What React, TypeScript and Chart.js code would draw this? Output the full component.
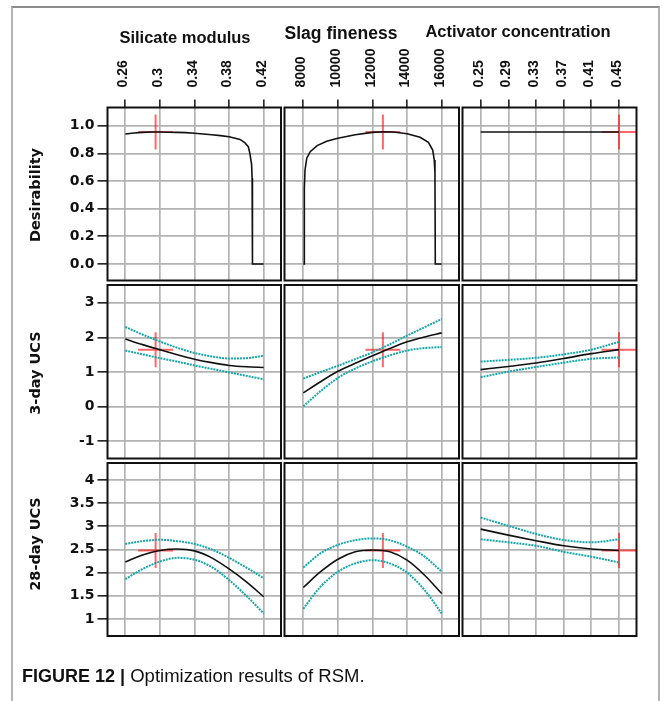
import React, { useEffect, useRef } from 'react';
import { Chart, registerables } from 'chart.js';
Chart.register(...registerables);

const W = 667;
const H = 701;

const columnTitles = ['Silicate modulus', 'Slag fineness', 'Activator concentration'];
const rowTitles = ['Desirability', '3-day UCS', '28-day UCS'];
const captionBold = 'FIGURE 12 |';
const captionText = ' Optimization results of RSM.';

// tick values
const smTicks = [0.26, 0.3, 0.34, 0.38, 0.42];
const sfTicks = [8000, 10000, 12000, 14000, 16000];
const acTicks = [0.25, 0.29, 0.33, 0.37, 0.41, 0.45];
const desTicks = [0, 0.2, 0.4, 0.6, 0.8, 1.0];
const ucs3Ticks = [-1, 0, 1, 2, 3];
const ucs28Ticks = [1, 1.5, 2, 2.5, 3, 3.5, 4];

// axis ranges
const smRange = [0.2394, 0.44];
const sfRange = [6913, 17000];
const acRange = [0.2237, 0.4753];
const desRange = [-0.1193, 1.1316];
const ucs3Range = [-1.496, 3.511];
const ucs28Range = [0.633, 4.367];

// optimum point
const optSM = 0.295;
const optSF = 12600;
const optAC = 0.45;
const optDes = 0.954;
const opt3 = 1.645;
const opt28 = 2.48;

// desirability curves
const smDesX = [0.26, 0.27, 0.28, 0.29, 0.3, 0.31, 0.32, 0.33, 0.34, 0.35, 0.36, 0.37, 0.38, 0.3926, 0.398, 0.4022, 0.404, 0.406, 0.4066, 0.407, 0.42];
const smDesY = [0.94, 0.947, 0.952, 0.954, 0.954, 0.953, 0.952, 0.95, 0.945, 0.94, 0.934, 0.928, 0.92, 0.901, 0.878, 0.848, 0.8, 0.72, 0.62, 0, 0];
const sfDesX = [8000, 8050, 8060, 8100, 8200, 8400, 8800, 9350, 10000, 11000, 12000, 12600, 13200, 14000, 14750, 15230, 15480, 15570, 15610, 15630, 16000];
const sfDesY = [0, 0, 0.55, 0.68, 0.765, 0.812, 0.856, 0.887, 0.909, 0.935, 0.952, 0.956, 0.954, 0.942, 0.916, 0.88, 0.824, 0.752, 0.656, 0, 0];
const acDesX = [0.25, 0.45];
const acDesY = [0.954, 0.954];

// silicate modulus
const smX = [0.26, 0.28, 0.3, 0.32, 0.34, 0.36, 0.38, 0.4, 0.42];
const sm3Fit = [1.95, 1.79, 1.64, 1.5, 1.37, 1.27, 1.19, 1.15, 1.13];
const sm3Hi = [2.3, 2.08, 1.88, 1.7, 1.55, 1.45, 1.39, 1.4, 1.47];
const sm3Lo = [1.62, 1.51, 1.4, 1.3, 1.19, 1.09, 0.99, 0.89, 0.79];
const sm28Fit = [2.23, 2.38, 2.48, 2.51, 2.47, 2.32, 2.08, 1.8, 1.48];
const sm28Hi = [2.62, 2.68, 2.71, 2.68, 2.62, 2.5, 2.32, 2.11, 1.88];
const sm28Lo = [1.86, 2.08, 2.24, 2.32, 2.28, 2.12, 1.84, 1.5, 1.12];

// slag fineness
const sfX = [8000, 9000, 10000, 11000, 12000, 13000, 14000, 15000, 16000];
const sf3Fit = [0.4, 0.72, 1.02, 1.25, 1.47, 1.68, 1.87, 2.01, 2.13];
const sf3Hi = [0.81, 1.0, 1.18, 1.37, 1.57, 1.8, 2.05, 2.29, 2.53];
const sf3Lo = [0.01, 0.45, 0.83, 1.1, 1.31, 1.48, 1.62, 1.69, 1.72];
const sf28Fit = [1.68, 2.02, 2.29, 2.45, 2.49, 2.45, 2.27, 1.95, 1.55];
const sf28Hi = [2.11, 2.42, 2.6, 2.7, 2.74, 2.7, 2.56, 2.35, 2.02];
const sf28Lo = [1.22, 1.7, 2.02, 2.2, 2.27, 2.2, 2.0, 1.63, 1.12];

// activator concentration
const acX = [0.25, 0.29, 0.33, 0.37, 0.41, 0.45];
const ac3Fit = [1.07, 1.16, 1.26, 1.39, 1.53, 1.645];
const ac3Hi = [1.3, 1.35, 1.41, 1.51, 1.645, 1.87];
const ac3Lo = [0.85, 1.01, 1.145, 1.27, 1.38, 1.42];
const ac28Fit = [2.94, 2.81, 2.69, 2.58, 2.51, 2.48];
const ac28Hi = [3.19, 3.01, 2.835, 2.705, 2.655, 2.72];
const ac28Lo = [2.72, 2.655, 2.58, 2.45, 2.345, 2.22];

// layout (panel edges in px)
const colLeft = [107.5, 284.5, 462.5];
const colRight = [281, 459, 636.5];
const rowTop = [107.5, 285, 463];
const rowBottom = [280.5, 458.5, 636];
const Y_AXIS_BOX = 70;
const X_AXIS_BOX = 90;

const xTicksByCol = [smTicks, sfTicks, acTicks];
const xRangeByCol = [smRange, sfRange, acRange];
const yTicksByRow = [desTicks, ucs3Ticks, ucs28Ticks];
const yRangeByRow = [desRange, ucs3Range, ucs28Range];
const optX = [optSM, optSF, optAC];
const optY = [optDes, opt3, opt28];

const pts = (xs: number[], ys: number[]) => xs.map((x, i) => ({ x, y: ys[i] }));

const BLACK = '#111111';
const CYAN = '#16a6a8';
const RED = 'rgba(255,0,0,0.6)';

function seriesFor(row: number, col: number) {
  if (row === 0) {
    const d = [
      [smDesX, smDesY],
      [sfDesX, sfDesY],
      [acDesX, acDesY],
    ][col];
    return { fit: pts(d[0], d[1]), hi: null, lo: null, smooth: false };
  }
  const xs = [smX, sfX, acX][col];
  const table =
    row === 1
      ? [
          [sm3Fit, sm3Hi, sm3Lo],
          [sf3Fit, sf3Hi, sf3Lo],
          [ac3Fit, ac3Hi, ac3Lo],
        ][col]
      : [
          [sm28Fit, sm28Hi, sm28Lo],
          [sf28Fit, sf28Hi, sf28Lo],
          [ac28Fit, ac28Hi, ac28Lo],
        ][col];
  return { fit: pts(xs, table[0]), hi: pts(xs, table[1]), lo: pts(xs, table[2]), smooth: true };
}

const framePlugin = {
  id: 'panelFrame',
  afterDraw(chart: any) {
    const { ctx, chartArea } = chart;
    ctx.save();
    ctx.strokeStyle = '#111';
    ctx.lineWidth = 2;
    ctx.strokeRect(chartArea.left, chartArea.top, chartArea.right - chartArea.left, chartArea.bottom - chartArea.top);
    ctx.restore();
  },
};

function buildConfig(row: number, col: number) {
  const s = seriesFor(row, col);
  const datasets: any[] = [];
  const lineBase = {
    showLine: true,
    pointRadius: 0,
    fill: false,
    cubicInterpolationMode: s.smooth ? 'monotone' : 'default',
    tension: 0,
  };
  if (s.hi && s.lo) {
    datasets.push({ ...lineBase, data: s.hi, borderColor: CYAN, borderWidth: 2, borderDash: [2, 1] });
    datasets.push({ ...lineBase, data: s.lo, borderColor: CYAN, borderWidth: 2, borderDash: [2, 1] });
  }
  datasets.push({ ...lineBase, data: s.fit, borderColor: BLACK, borderWidth: 1.6 });
  datasets.push({
    data: [{ x: optX[col], y: optY[row] }],
    showLine: false,
    pointStyle: 'cross',
    pointRadius: 17.5,
    pointBorderColor: RED,
    borderColor: RED,
    pointBorderWidth: 2,
    borderWidth: 2,
    clip: 20,
  });

  const xTicks = xTicksByCol[col];
  const yTicks = yTicksByRow[row];
  const xr = xRangeByCol[col];
  const yr = yRangeByRow[row];

  return {
    type: 'scatter',
    data: { datasets },
    options: {
      responsive: false,
      animation: false,
      devicePixelRatio: 1,
      events: [],
      layout: {
        padding: {
          left: colLeft[col] - Y_AXIS_BOX,
          right: W - colRight[col],
          top: rowTop[row] - X_AXIS_BOX,
          bottom: H - rowBottom[row],
        },
      },
      plugins: { legend: { display: false }, tooltip: { enabled: false } },
      scales: {
        x: {
          type: 'linear',
          position: 'top',
          min: xr[0],
          max: xr[1],
          afterBuildTicks: (sc: any) => {
            sc.ticks = xTicks.map((v) => ({ value: v }));
          },
          afterFit: (sc: any) => {
            sc.height = X_AXIS_BOX;
          },
          border: { display: false },
          grid: {
            color: '#b3b3b3',
            lineWidth: 1.7,
            drawTicks: row === 0,
            tickLength: 8,
            tickColor: '#111',
            tickWidth: 1.5,
          },
          ticks: {
            display: row === 0,
            autoSkip: false,
            minRotation: 90,
            maxRotation: 90,
            padding: 12,
            labelOffset: 15,
            color: '#111',
            font: { family: "'Liberation Sans', Arial, sans-serif", weight: 'bold', size: 14 },
            callback: (v: number) => String(v),
          },
        },
        y: {
          type: 'linear',
          position: 'left',
          min: yr[0],
          max: yr[1],
          afterBuildTicks: (sc: any) => {
            sc.ticks = yTicks.map((v) => ({ value: v }));
          },
          afterFit: (sc: any) => {
            sc.width = Y_AXIS_BOX;
          },
          border: { display: false },
          grid: {
            color: '#b3b3b3',
            lineWidth: 1.7,
            drawTicks: col === 0,
            tickLength: 10,
            tickColor: '#111',
            tickWidth: 1.5,
          },
          ticks: {
            display: col === 0,
            autoSkip: false,
            padding: 3,
            color: '#111',
            font: { family: "'DejaVu Sans', sans-serif", weight: 'bold', size: 14 },
            callback: (v: number) => (row === 0 ? v.toFixed(1) : String(v)),
          },
        },
      },
    },
    plugins: [framePlugin],
  };
}

function Panel({ row, col }: { row: number; col: number }) {
  const ref = useRef<HTMLCanvasElement>(null);
  useEffect(() => {
    const chart = new Chart(ref.current as HTMLCanvasElement, buildConfig(row, col) as any);
    return () => chart.destroy();
  }, [row, col]);
  return (
    <canvas
      ref={ref}
      width={W}
      height={H}
      style={{ position: 'absolute', left: 0, top: 0, width: W, height: H }}
    />
  );
}

const titlePos = [
  { x: 185, y: 37, size: 16.5 },
  { x: 341, y: 34, size: 17.5 },
  { x: 518, y: 31, size: 16.5 },
];
const rowLabelPos = [
  { x: 35, y: 194.5 },
  { x: 35, y: 372.5 },
  { x: 35, y: 544 },
];

export default function App() {
  const panels: React.ReactNode[] = [];
  for (let r = 0; r < 3; r++) for (let c = 0; c < 3; c++) panels.push(<Panel key={`${r}-${c}`} row={r} col={c} />);
  return (
    <div style={{ position: 'fixed', left: 0, top: 0, width: W, height: H, background: '#fff', overflow: 'hidden' }}>
      <div
        style={{
          position: 'absolute',
          left: 11,
          top: 6,
          width: 649,
          height: 760,
          borderTop: '2px solid #8c8c8c',
          borderLeft: '2px solid #b4b4b4',
          borderRight: '2px solid #b4b4b4',
          boxSizing: 'border-box',
        }}
      />
      {panels}
      {columnTitles.map((t, i) => (
        <div
          key={t}
          style={{
            position: 'absolute',
            left: titlePos[i].x,
            top: titlePos[i].y,
            transform: 'translate(-50%, -50%)',
            whiteSpace: 'nowrap',
            fontFamily: "'Liberation Sans', Arial, sans-serif",
            fontWeight: 'bold',
            fontSize: titlePos[i].size,
            color: '#111',
            lineHeight: 1,
          }}
        >
          {t}
        </div>
      ))}
      {rowTitles.map((t, i) => (
        <div
          key={t}
          style={{
            position: 'absolute',
            left: rowLabelPos[i].x,
            top: rowLabelPos[i].y,
            transform: 'translate(-50%, -50%) rotate(-90deg)',
            whiteSpace: 'nowrap',
            fontFamily: "'DejaVu Sans', sans-serif",
            fontWeight: 'bold',
            fontSize: 14.5,
            color: '#111',
            lineHeight: 1,
          }}
        >
          {t}
        </div>
      ))}
      <div
        style={{
          position: 'absolute',
          left: 22,
          top: 666,
          whiteSpace: 'nowrap',
          fontFamily: "'Liberation Sans', Arial, sans-serif",
          lineHeight: '20px',
          color: '#111',
        }}
      >
        <span style={{ fontWeight: 'bold', fontSize: 18 }}>{captionBold}</span>
        <span style={{ fontSize: 18.5 }}>{captionText}</span>
      </div>
    </div>
  );
}
